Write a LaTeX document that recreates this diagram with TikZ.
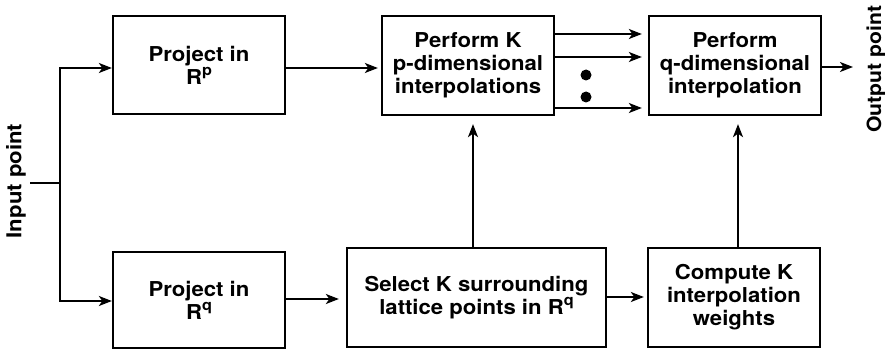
\documentclass[tikz,border=0pt]{standalone}
\usepackage{fontspec}
\setmainfont[FakeStretch=1.08]{TeX Gyre Heros}
\usetikzlibrary{arrows.meta}
\newcommand\mysup[1]{\raisebox{8.5pt}{\fontsize{15}{15}\selectfont #1}}
\begin{document}
\begin{tikzpicture}[x=1pt,y=-1pt,
  box/.style={draw,line width=2.3pt,minimum width=#1,align=center,inner sep=0pt,
    font=\fontsize{20.5}{23}\selectfont\bfseries},
  arr/.style={line width=2pt,-{Stealth[length=13pt,width=10pt,inset=3.5pt]}},
  ln/.style={line width=2pt},
  lbl/.style={rotate=90,font=\fontsize{20.5}{23}\selectfont\bfseries,inner sep=0pt}]
\useasboundingbox (0,0) rectangle (885,358);
\node[box=172pt,minimum height=98pt] (A) at (199,65) {Project in\\R\mysup{p}};
\node[box=172pt,minimum height=96pt] (B) at (199,300) {Project in\\R\mysup{q}};
\node[box=172pt,minimum height=99pt] (C) at (468,65.5) {Perform K\\p-dimensional\\interpolations};
\node[box=172pt,minimum height=99pt] (D) at (735,65.5) {Perform\\q-dimensional\\interpolation};
\node[box=259pt,minimum height=99pt] (E) at (476.5,297.5) {Select K surrounding\\lattice points in R\mysup{q}};
\node[box=172pt,minimum height=99pt] (F) at (734,297.5) {Compute K\\interpolation\\weights};
\node[lbl] (inl) at (16,181) {Input point};
\node[lbl,font=\fontsize{19.6}{23}\selectfont\bfseries] (outl) at (876,69) {Output point};
\coordinate (in) at (30,183);
\coordinate (split) at (60,183);
\coordinate (out) at (853,67);
\coordinate (yA) at (0,68);
\coordinate (yB) at (0,301);
\coordinate (yAC) at (0,68);
\coordinate (y1) at (0,34);
\coordinate (y2) at (0,57);
\coordinate (y3) at (0,108);
\coordinate (yBE) at (0,299);
\coordinate (yEF) at (0,297);
\coordinate (xE) at (473,0);
\coordinate (xF) at (738,0);
\draw[ln] (in) -- (split);
\draw[arr] (split) |- (A.west |- yA);
\draw[arr] (split) |- (B.west |- yB);
\draw[arr,shorten >=3pt] (A.east |- yAC) -- (C.west |- yAC);
\draw[arr,shorten >=6pt] (C.east |- y1) -- (D.west |- y1);
\draw[arr,shorten >=6pt] (C.east |- y2) -- (D.west |- y2);
\draw[arr,shorten >=6pt] (C.east |- y3) -- (D.west |- y3);
\fill (586,75) circle (5.5pt);
\fill (586,97) circle (5.5pt);
\draw[arr] (D.east |- out) -- (out);
\draw[arr,shorten >=7pt] (B.east |- yBE) -- (E.west |- yBE);
\draw[arr,shorten >=3pt] (E.east |- yEF) -- (F.west |- yEF);
\draw[arr,shorten >=8pt] (xE |- E.north) -- (xE |- C.south);
\draw[arr,shorten >=8pt] (xF |- F.north) -- (xF |- D.south);
\end{tikzpicture}
\end{document}
